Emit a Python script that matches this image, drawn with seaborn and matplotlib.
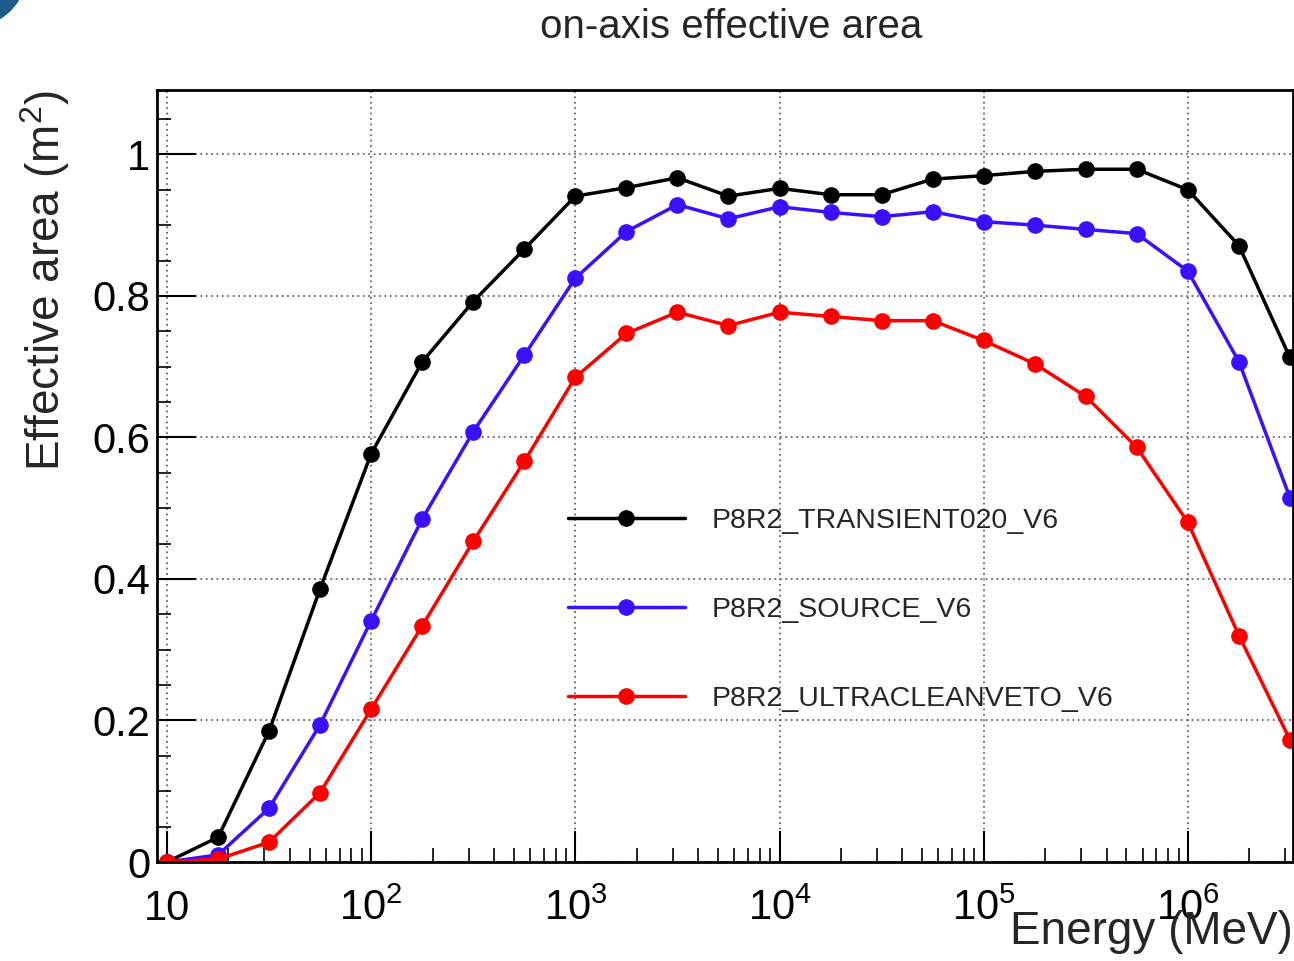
import numpy as np
import pandas as pd
import seaborn as sns
import matplotlib.pyplot as plt
from matplotlib.patches import Circle
from matplotlib.ticker import FixedLocator, MultipleLocator

# energies in MeV, quarter-decade steps from 10 MeV
energy = [10, 17.8, 31.6, 56.2, 100, 178, 316, 562, 1e3, 1.78e3, 3.16e3, 5.62e3,
          1e4, 1.78e4, 3.16e4, 5.62e4, 1e5, 1.78e5, 3.16e5, 5.62e5, 1e6, 1.78e6, 3.16e6]

transient020 = [0.0, 0.035, 0.185, 0.386, 0.577, 0.707, 0.792, 0.866, 0.941, 0.953, 0.967, 0.941,
                0.952, 0.943, 0.943, 0.965, 0.970, 0.976, 0.979, 0.979, 0.950, 0.871, 0.713]
source = [0.0, 0.010, 0.076, 0.194, 0.341, 0.485, 0.608, 0.716, 0.825, 0.891, 0.929, 0.909,
          0.926, 0.918, 0.912, 0.919, 0.905, 0.900, 0.894, 0.888, 0.835, 0.707, 0.515]
ultraclean = [0.0, 0.004, 0.028, 0.098, 0.216, 0.334, 0.453, 0.566, 0.685, 0.747, 0.777, 0.758,
              0.777, 0.771, 0.765, 0.765, 0.737, 0.704, 0.658, 0.586, 0.480, 0.320, 0.173]

names = ["P8R2_TRANSIENT020_V6", "P8R2_SOURCE_V6", "P8R2_ULTRACLEANVETO_V6"]
colors = ["black", "#3a10ff", "#ff0000"]

xtick_vals = [10, 1e2, 1e3, 1e4, 1e5, 1e6]
xtick_labels = ["10", r"$\mathregular{10^{2}}$", r"$\mathregular{10^{3}}$",
                r"$\mathregular{10^{4}}$", r"$\mathregular{10^{5}}$", r"$\mathregular{10^{6}}$"]
ytick_vals = [0, 0.2, 0.4, 0.6, 0.8, 1.0]
ytick_labels = ["0", "0.2", "0.4", "0.6", "0.8", "1"]

rows = []
for name, vals in zip(names, [transient020, source, ultraclean]):
    for e, a in zip(energy, vals):
        rows.append({"energy": e, "area": a, "selection": name})
df = pd.DataFrame(rows)

sns.set_style("white")
plt.rcParams["font.family"] = ["Liberation Sans", "DejaVu Sans"]
plt.rcParams["mathtext.fontset"] = "custom"
plt.rcParams["mathtext.rm"] = "Liberation Sans"
plt.rcParams["mathtext.it"] = "Liberation Sans:italic"

fig = plt.figure(figsize=(12.94, 9.61), dpi=100)
ax = fig.add_axes([157 / 1294, 1 - 862 / 961, (1293 - 157) / 1294, (862 - 90) / 961])

sns.lineplot(data=df, x="energy", y="area", hue="selection", hue_order=names,
             palette=dict(zip(names, colors)), marker="o", markersize=12,
             markeredgewidth=0, linewidth=2.5, errorbar=None, legend=False, ax=ax)

ax.set_xscale("log")
ax.set_xlim(10 ** 0.951, 10 ** 6.515)
ax.set_ylim(0, 1.091)

ax.set_xticks(xtick_vals, xtick_labels)
ax.xaxis.set_minor_locator(FixedLocator([m * 10 ** d for d in range(1, 7) for m in range(2, 10)]))
ax.set_yticks(ytick_vals, ytick_labels)
ax.yaxis.set_minor_locator(MultipleLocator(0.05))

ax.tick_params(axis="both", which="both", direction="in", colors="black",
               bottom=True, left=True, top=False, right=False)
ax.tick_params(axis="x", which="major", length=22, width=1.5, labelsize=30, pad=42)
ax.tick_params(axis="x", which="minor", length=10, width=1.2)
ax.tick_params(axis="y", which="major", length=28, width=1.5, labelsize=30, pad=5)
ax.tick_params(axis="y", which="minor", length=10, width=1.2)
for t in ax.get_xticklabels():
    t.set_va("baseline")

ax.grid(True, which="major", color="#666666", linestyle=(0, (1, 2)), linewidth=1.3)
for s in ax.spines.values():
    s.set_visible(True)
    s.set_color("black")
    s.set_linewidth(2)

ax.set_xlabel("Energy (MeV)", fontsize=33, loc="right")
ax.xaxis.set_label_coords(1.0, -0.062)
ax.set_ylabel("Effective area (m$^2$)", fontsize=33, loc="top")
ax.yaxis.set_label_coords(-0.075, 1.0)

fig.text(0.565, 0.972, "on-axis effective area", fontsize=29, ha="center", va="center")

ax.legend(handles=ax.lines[:3], labels=names, loc="center left",
          bbox_to_anchor=((568 - 157) / 1136, (862 - 610) / 772), frameon=False,
          fontsize=20.5, handlelength=4.1, handletextpad=0.95, labelspacing=2.2,
          borderpad=0, borderaxespad=0)

# slide decoration in the top-left corner
fig.patches.append(Circle((-30 / 100, (961 + 30) / 100), 57 / 100, transform=fig.dpi_scale_trans,
                          color="#1d5b8c", zorder=0))

fig.savefig("out.png", dpi=100)
